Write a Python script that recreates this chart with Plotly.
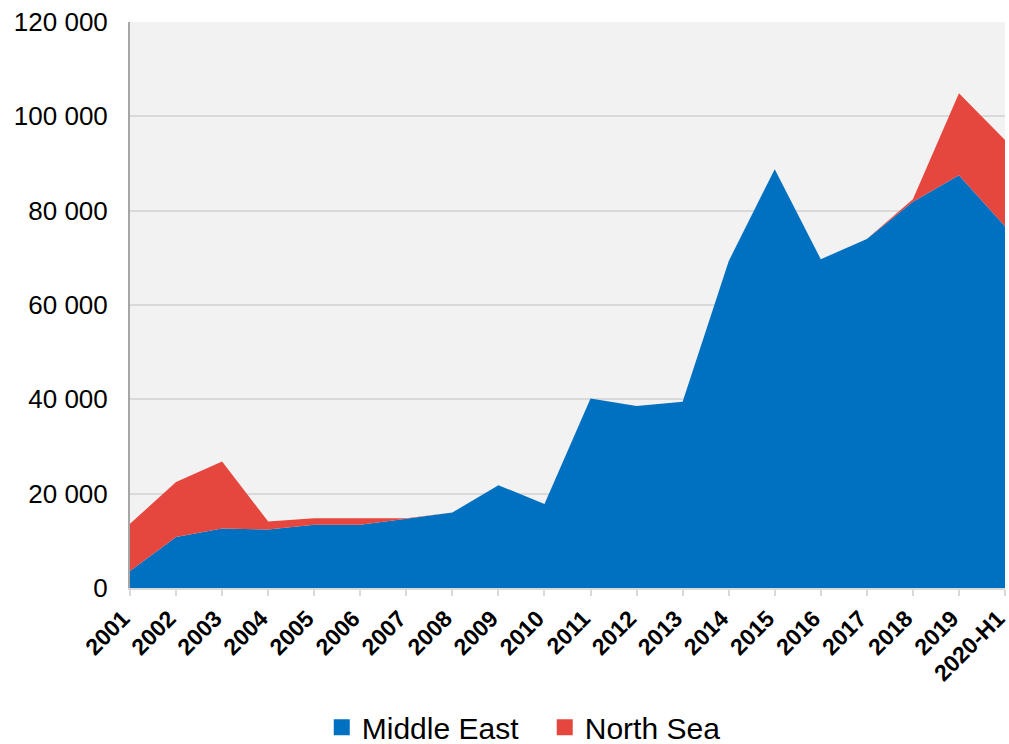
import plotly.graph_objects as go

categories = ["2001", "2002", "2003", "2004", "2005", "2006", "2007", "2008", "2009", "2010",
              "2011", "2012", "2013", "2014", "2015", "2016", "2017", "2018", "2019", "2020-H1"]
middle_east = [3600, 10800, 12600, 12400, 13400, 13400, 14700, 16000, 21800, 17800,
               40200, 38600, 39500, 69300, 88800, 69700, 74000, 81900, 87500, 76700]
north_sea = [10000, 11700, 14200, 1700, 1400, 1400, 100, 0, 0, 0,
             0, 0, 0, 0, 0, 0, 0, 500, 17400, 18300]
y_ticks = [0, 20000, 40000, 60000, 80000, 100000, 120000]

series = [("Middle East", middle_east, "#0070C0"), ("North Sea", north_sea, "#E5473F")]

fig = go.Figure()
for name, vals, col in series:
    fig.add_trace(go.Scatter(x=categories, y=vals, name=name, mode="lines",
                             stackgroup="one", line=dict(width=0, color=col),
                             fillcolor=col, showlegend=False, hoverinfo="skip"))
for name, vals, col in series:
    fig.add_trace(go.Scatter(x=[None], y=[None], name=name, mode="markers",
                             marker=dict(symbol="square", size=17, color=col),
                             showlegend=True))

fig.update_layout(
    width=1009, height=744,
    margin=dict(l=130, r=4, t=22, b=156, autoexpand=False),
    paper_bgcolor="white", plot_bgcolor="#F2F2F2",
    separators=". ",
    font=dict(family="Liberation Sans, Arial, sans-serif", color="black"),
    showlegend=True,
    legend=dict(orientation="h", x=0.474, xanchor="center", y=-0.2, yanchor="top",
                font=dict(size=30), traceorder="normal", itemwidth=30,
                entrywidth=178, entrywidthmode="pixels"),
    xaxis=dict(type="category", range=[0, 19], tickangle=-45, automargin=False,
               tickfont=dict(size=23, family="Liberation Sans, Arial, sans-serif", weight="bold"),
               showgrid=False, showline=True, linecolor="#D9D9D9", linewidth=2,
               ticks="outside", tickcolor="#D9D9D9", ticklen=6, tickwidth=2,
               ticklabeloverflow="allow", ticklabelshift=-7),
    yaxis=dict(range=[0, 120000], tickvals=y_ticks, tickformat=",d", automargin=False,
               tickfont=dict(size=26), showgrid=True, gridcolor="#D9D9D9", gridwidth=1.5,
               showline=True, linecolor="#A6A6A6", linewidth=2, zeroline=False,
               ticks="", ticklen=0, ticklabeloverflow="allow", ticklabelstandoff=15),
)

fig.write_html("out.html", config={"displayModeBar": False},
               post_script="document.body.style.margin='0';document.body.style.overflow='hidden';")
